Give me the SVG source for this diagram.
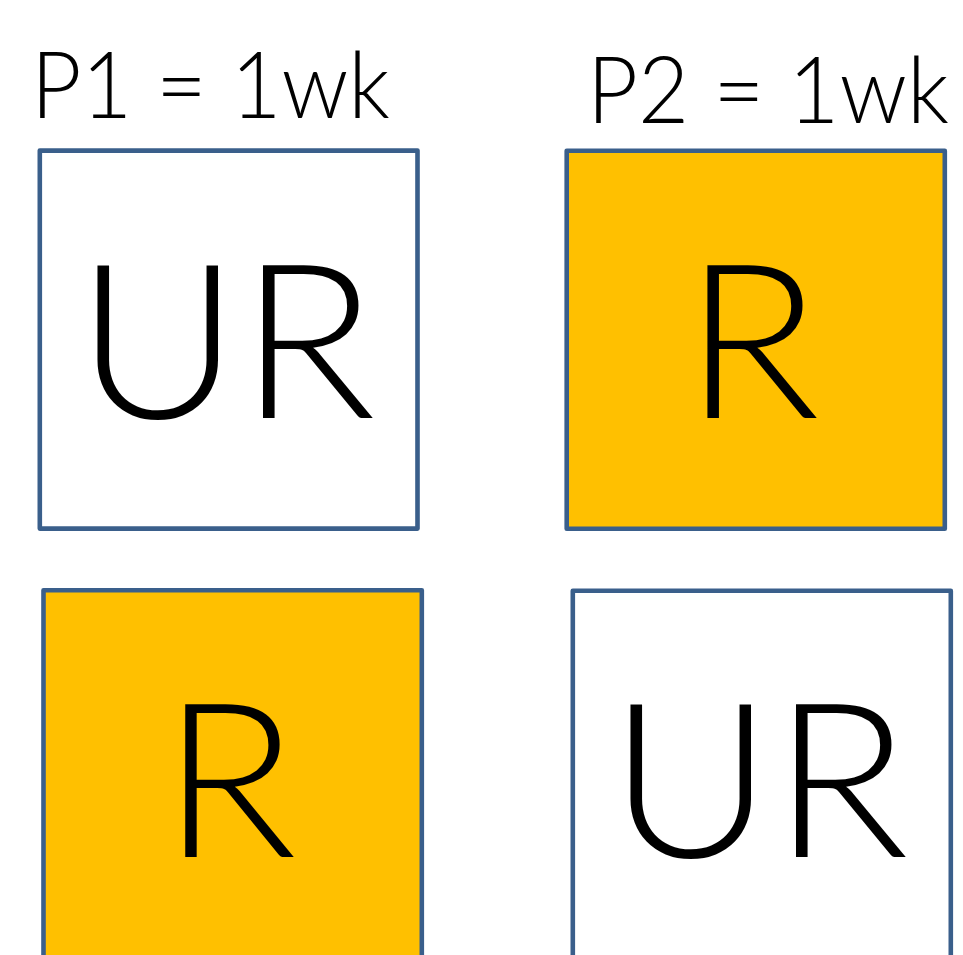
<svg xmlns="http://www.w3.org/2000/svg" width="963" height="955" viewBox="0 0 963 955">
<style>
.box{stroke:#3A5F8B;stroke-width:4.6;stroke-linejoin:round}
.w{fill:#FFFFFF}
.o{fill:#FFC000}
.big{font-family:Lato,"Liberation Sans",sans-serif;font-weight:300;font-size:215px;fill:#000}
.title{font-family:Lato,"Liberation Sans",sans-serif;font-weight:300;font-size:93px;fill:#000}
</style>
<rect width="963" height="955" fill="#FFFFFF"/>
<g id="label-p1"><text class="title" x="31" y="118" textLength="359" lengthAdjust="spacingAndGlyphs">P1 = 1wk</text></g>
<g id="label-p2"><text class="title" x="587" y="123" textLength="362" lengthAdjust="spacingAndGlyphs">P2 = 1wk</text></g>
<g id="node-tl"><rect class="box w" x="39.8" y="150.6" width="377.7" height="378"/><text class="big" x="76" y="418" textLength="300" lengthAdjust="spacingAndGlyphs">UR</text></g>
<g id="node-tr"><rect class="box o" x="566.7" y="150.8" width="378.1" height="378"/><text class="big" x="684" y="418" textLength="136" lengthAdjust="spacingAndGlyphs">R</text></g>
<g id="node-bl"><rect class="box o" x="43.5" y="590.3" width="378.3" height="400"/><text class="big" x="162" y="857" textLength="135" lengthAdjust="spacingAndGlyphs">R</text></g>
<g id="node-br"><rect class="box w" x="572.8" y="590.8" width="378" height="400"/><text class="big" x="609" y="857" textLength="300" lengthAdjust="spacingAndGlyphs">UR</text></g>
<g id="connectors"></g>
</svg>
